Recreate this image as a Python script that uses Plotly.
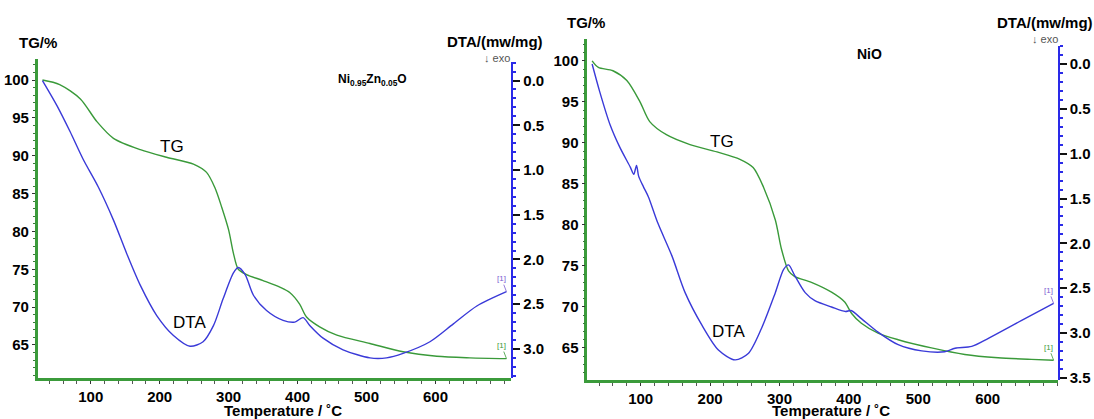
import plotly.graph_objects as go

# ---------------- data ----------------
# Left panel: Ni0.95Zn0.05O
T_L_TG = [30, 55, 85, 109, 133, 172, 210, 249, 268, 280, 290, 300, 307, 314, 326, 350, 375, 389,
          403, 413, 432, 457, 505, 553, 602, 650, 703]
TG_L = [100.0, 99.4, 97.5, 94.5, 92.3, 90.8, 89.8, 88.9, 87.8, 85.8, 83.2, 80.2, 77.1, 75.0, 74.3,
        73.5, 72.6, 71.9, 70.4, 68.7, 67.4, 66.3, 65.2, 64.1, 63.5, 63.3, 63.2]

T_L_DTA = [30, 51, 70, 89, 111, 133, 152, 172, 196, 220, 244, 263, 278, 292, 307, 314, 324, 336,
           355, 379, 396, 408, 418, 437, 466, 505, 529, 553, 592, 626, 660, 703]
DTA_L = [0.0, -0.28, -0.57, -0.88, -1.19, -1.56, -1.93, -2.29, -2.63, -2.85, -2.97, -2.92, -2.74,
         -2.44, -2.15, -2.09, -2.17, -2.40, -2.57, -2.68, -2.70, -2.65, -2.74, -2.88, -3.01, -3.10,
         -3.10, -3.05, -2.92, -2.72, -2.52, -2.36]

# Right panel: NiO
T_R_TG = [30, 39, 60, 80, 99, 113, 137, 171, 210, 243, 262, 277, 294, 303, 313, 322, 346, 375,
          394, 404, 418, 442, 471, 519, 567, 615, 663, 695]
TG_R = [100.0, 99.2, 98.8, 97.6, 95.0, 92.6, 91.0, 89.8, 88.9, 88.0, 87.0, 84.6, 80.6, 77.0, 74.4,
        73.7, 73.0, 71.8, 70.6, 69.2, 68.0, 66.8, 66.0, 65.0, 64.2, 63.8, 63.6, 63.5]

T_R_DTA = [30, 41, 56, 70, 85, 90, 94, 97, 104, 111, 125, 145, 164, 188, 212, 236, 255, 274, 294,
           306, 313, 322, 337, 351, 375, 395, 403, 418, 442, 471, 505, 538, 553, 577, 601, 649, 695]
DTA_R = [0.0, -0.31, -0.68, -0.93, -1.15, -1.23, -1.13, -1.25, -1.37, -1.48, -1.78, -2.14, -2.55,
         -2.91, -3.19, -3.30, -3.23, -2.95, -2.55, -2.29, -2.24, -2.36, -2.55, -2.64, -2.71, -2.76,
         -2.75, -2.84, -2.99, -3.13, -3.20, -3.21, -3.17, -3.15, -3.06, -2.86, -2.67]

X_TICKS = [100, 200, 300, 400, 500, 600]
TG_TICKS = [65, 70, 75, 80, 85, 90, 95, 100]
DTA_TICKS_L = [0.0, -0.5, -1.0, -1.5, -2.0, -2.5, -3.0]
DTA_TICKS_R = [0.0, -0.5, -1.0, -1.5, -2.0, -2.5, -3.0, -3.5]
# the reference prints the DTA scale as "- 0.5" (a dash tick followed by the magnitude)
DTA_LABELS_L = ["0.0", "0.5", "1.0", "1.5", "2.0", "2.5", "3.0"]
DTA_LABELS_R = ["0.0", "0.5", "1.0", "1.5", "2.0", "2.5", "3.0", "3.5"]

# ---------------- styling ----------------
W, H = 1094, 419
GREEN = "#3a9a3a"
GREEN_AX = "#3b9b3b"
BLUE = "#3a3ad8"
BLUE_AX = "#2a2ae8"
FONT = "Liberation Sans, Arial, sans-serif"


def px(x):
    return x / W


def py(y):
    return 1 - y / H


fig = go.Figure()
line_kw = dict(shape="spline", smoothing=0.8, width=1.4)
fig.add_trace(go.Scatter(x=T_L_TG, y=TG_L, mode="lines", line=dict(color=GREEN, **line_kw),
                         xaxis="x", yaxis="y", showlegend=False))
fig.add_trace(go.Scatter(x=T_L_DTA, y=DTA_L, mode="lines", line=dict(color=BLUE, **line_kw),
                         xaxis="x", yaxis="y2", showlegend=False))
fig.add_trace(go.Scatter(x=T_R_TG, y=TG_R, mode="lines", line=dict(color=GREEN, **line_kw),
                         xaxis="x2", yaxis="y3", showlegend=False))
fig.add_trace(go.Scatter(x=T_R_DTA, y=DTA_R, mode="lines", line=dict(color=BLUE, **line_kw),
                         xaxis="x2", yaxis="y4", showlegend=False))

tickfont = dict(family=FONT, size=15, color="#000", weight="bold")


def xaxis_cfg(domain, rng, anchor):
    return dict(domain=domain, range=rng, anchor=anchor, tickvals=X_TICKS, showgrid=False,
                zeroline=False, showline=True, linecolor=GREEN_AX, linewidth=2.5,
                ticks="outside", ticklen=3, tickcolor="#333", tickfont=tickfont,
                minor=dict(dtick=20, tick0=0, ticks="outside", ticklen=3, tickcolor="#555"))


def tg_cfg(domain, rng, anchor):
    return dict(domain=domain, range=rng, anchor=anchor, tickvals=TG_TICKS, showgrid=False,
                zeroline=False, showline=True, linecolor=GREEN_AX, linewidth=2.5,
                ticks="outside", ticklen=3, tickcolor="#333", tickfont=tickfont,
                minor=dict(dtick=1, ticks="outside", ticklen=2, tickcolor="#3a7a3a"))


def dta_cfg(domain, rng, anchor, ticks, labels):
    return dict(domain=domain, range=rng, anchor=anchor, side="right", tickvals=ticks,
                ticktext=labels, showgrid=False, zeroline=False, showline=True,
                linecolor=BLUE_AX, linewidth=2, ticks="outside", ticklen=7, tickwidth=1.6,
                tickcolor="#111", tickfont=tickfont,
                minor=dict(dtick=0.1, ticks="outside", ticklen=3, tickcolor=BLUE_AX))


fig.update_layout(
    width=W, height=H, margin=dict(l=0, r=0, t=0, b=0),
    paper_bgcolor="white", plot_bgcolor="rgba(0,0,0,0)",
    xaxis=xaxis_cfg([px(37.7), px(511.3)], [23.1, 710.0], "y"),
    yaxis=tg_cfg([py(383.3), py(60)], [60.66, 102.76], "x"),
    yaxis2=dta_cfg([py(383.3), py(63.3)], [-3.323, 0.203], "x", DTA_TICKS_L, DTA_LABELS_L),
    xaxis2=xaxis_cfg([px(587.3), px(1057.7)], [23.05, 700.9], "y3"),
    yaxis3=tg_cfg([py(386), py(40)], [61.03, 102.62], "x2"),
    yaxis4=dta_cfg([py(386), py(46.7)], [-3.530, 0.201], "x2", DTA_TICKS_R, DTA_LABELS_R),
)


def ann(text, x, y, size=15, color="#000", weight="normal", **kw):
    fig.add_annotation(text=text, x=px(x), y=py(y), xref="paper", yref="paper",
                       showarrow=False, xanchor="center", yanchor="middle",
                       font=dict(family=FONT, size=size, color=color, weight=weight), **kw)


# Left panel texts
ann("TG/%", 38, 43, weight="bold")
ann("DTA/(mw/mg)", 495, 42, weight="bold")
ann("↓ exo", 497, 59, size=11, color="#555")
ann("Ni<sub>0.95</sub>Zn<sub>0.05</sub>O", 372, 81, size=12, weight="bold")
ann("TG", 172, 149, size=17)
ann("DTA", 189, 327, size=17)
ann("Temperature / ˚C", 283, 416, weight="bold")

# Right panel texts
ann("TG/%", 586, 23, weight="bold")
ann("DTA/(mw/mg)", 1045, 23, weight="bold")
ann("↓ exo", 1045, 40, size=11, color="#555")
ann("NiO", 869, 55, size=14, weight="bold")
ann("TG", 722, 144, size=17)
ann("DTA", 728, 336, size=17)
ann("Temperature / ˚C", 831, 416, weight="bold")

# "[1]" end-of-curve markers
for xr, yr, tx, ty, col in [("x", "y", T_L_TG, TG_L, GREEN), ("x", "y2", T_L_DTA, DTA_L, "#7a5ad0"),
                             ("x2", "y3", T_R_TG, TG_R, GREEN), ("x2", "y4", T_R_DTA, DTA_R, "#7a5ad0")]:
    fig.add_annotation(text="[1]", x=tx[-1], y=ty[-1], xref=xr, yref=yr, showarrow=True,
                       arrowhead=0, arrowwidth=0.8, arrowcolor=col, ax=-5, ay=-13,
                       font=dict(family=FONT, size=8, color=col))

fig.write_html("out.html", config={"displayModeBar": False},
               post_script="document.body.style.margin='0px';")
